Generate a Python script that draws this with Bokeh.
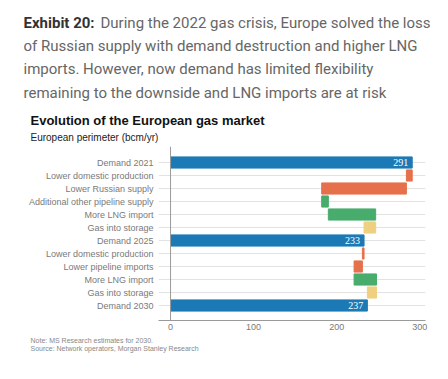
from bokeh.plotting import figure
from bokeh.layouts import column, row
from bokeh.models import Range1d, Label, LabelSet, ColumnDataSource, Span, FixedTicker
from bokeh.embed import file_html
from bokeh.resources import INLINE

categories = ["Demand 2021", "Lower domestic production", "Lower Russian supply",
              "Additional other pipeline supply", "More LNG import", "Gas into storage",
              "Demand 2025", "Lower domestic production", "Lower pipeline imports",
              "More LNG import", "Gas into storage", "Demand 2030"]
# totals for Demand rows, changes for others
values = [291, -7, -102, 8, 57, -14, 233, -2, -10, 27, -11, 237]
kinds = ["total", "down", "down", "up", "up", "storage",
         "total", "down", "down", "up", "storage", "total"]
x_ticks = [0, 100, 200, 300]

palette = {"total": "#1b7ab5", "down": "#e6704c", "up": "#48ad6c", "storage": "#efd080"}

lefts, rights, cols, ys = [], [], [], []
level = 0
for i, (v, k) in enumerate(zip(values, kinds)):
    if k == "total":
        lefts.append(0); rights.append(v); level = v
    else:
        new = level + v
        lefts.append(min(level, new)); rights.append(max(level, new)); level = new
    cols.append(palette[k]); ys.append(i)

src = ColumnDataSource(dict(y=ys, left=lefts, right=rights, color=cols))
tot_idx = [i for i, k in enumerate(kinds) if k == "total"]
tot_src = ColumnDataSource(dict(y=tot_idx, x=[values[i] for i in tot_idx],
                                t=[str(values[i]) for i in tot_idx]))

W = 448
TOP_H = 146      # header band (page y 0..146)
CH_H = 189       # chart band (page y 146..335)
BOT_H = 44       # footer band (page y 335..379)


def text_band(h):
    f = figure(width=W, height=h, output_backend="svg", toolbar_location=None,
               x_range=Range1d(0, W), y_range=Range1d(h, 0),
               x_axis_location=None, y_axis_location=None,
               min_border=0, min_border_left=0, min_border_right=0,
               min_border_top=0, min_border_bottom=0)
    f.grid.visible = False
    f.outline_line_color = None
    f.background_fill_color = "white"
    f.border_fill_color = "white"
    return f


def lab(f, text, px, py, size, color, bold=False, font="Liberation Sans"):
    f.add_layout(Label(x=px, y=py, text=text, text_font=font, text_font_size=size,
                       text_color=color, text_font_style="bold" if bold else "normal",
                       text_baseline="middle", text_align="left"))


head = text_band(TOP_H)
lab(head, "Exhibit 20:", 23, 22, "15px", "#333333", bold=True, font="Roboto")
lab(head, "During the 2022 gas crisis, Europe solved the loss", 100, 22, "15px", "#666666", font="Roboto")
lab(head, "of Russian supply with demand destruction and higher LNG", 23, 45, "15px", "#666666", font="Roboto")
lab(head, "imports. However, now demand has limited flexibility", 23, 68, "15px", "#666666", font="Roboto")
lab(head, "remaining to the downside and LNG imports are at risk", 23, 92, "15px", "#666666", font="Roboto")
lab(head, "Evolution of the European gas market", 30, 120, "13px", "#111111", bold=True)
lab(head, "European perimeter (bcm/yr)", 30, 137, "10px", "#222222")

fl, fr = 158, 425
top0, bot0 = 140 - TOP_H, 320 - TOP_H     # frame top/bottom inside chart band
p = figure(width=W, height=CH_H, output_backend="svg", toolbar_location=None,
           x_range=Range1d(-14.5, 307), y_range=Range1d(11 + 15 / 13, -16 / 13),
           min_border_left=fl, min_border_right=W - fr, min_border_top=0,
           min_border_bottom=CH_H - bot0)
p.outline_line_color = None
p.background_fill_color = "white"
p.border_fill_color = "white"

p.hbar(y="y", left="left", right="right", height=0.86, color="color", source=src)
p.add_layout(LabelSet(x="x", y="y", text="t", source=tot_src, x_offset=-4,
                      text_align="right", text_baseline="middle", text_color="white",
                      text_font="Liberation Sans", text_font_size="10px"))
p.add_layout(Span(location=0, dimension="height", line_color="#9a9a9a", line_width=1))

p.xgrid.visible = False
p.ygrid.ticker = FixedTicker(ticks=list(range(len(categories))))
p.ygrid.grid_line_color = "#e2e2e2"
p.ygrid.level = "underlay"

p.yaxis.ticker = FixedTicker(ticks=list(range(len(categories))))
p.yaxis.major_label_overrides = {i: c for i, c in enumerate(categories)}
p.yaxis.axis_line_color = None
p.yaxis.major_tick_line_color = None
p.yaxis.major_tick_out = 0
p.yaxis.major_tick_in = 0
p.yaxis.minor_tick_line_color = None
p.yaxis.major_label_standoff = 5
p.yaxis.major_label_text_font = "Liberation Sans"
p.yaxis.major_label_text_font_size = "9px"
p.yaxis.major_label_text_color = "#7a7a7a"

p.xaxis.ticker = FixedTicker(ticks=x_ticks)
p.xaxis.axis_line_color = "#9a9a9a"
p.xaxis.major_tick_line_color = None
p.xaxis.major_tick_out = 0
p.xaxis.major_tick_in = 0
p.xaxis.minor_tick_line_color = None
p.xaxis.major_label_standoff = 3
p.xaxis.major_label_text_font = "Liberation Sans"
p.xaxis.major_label_text_font_size = "9px"
p.xaxis.major_label_text_color = "#7a7a7a"

foot = text_band(BOT_H)
lab(foot, "Note: MS Research estimates for 2030.", 30, 340 - 335, "7px", "#888888")
lab(foot, "Source: Network operators, Morgan Stanley Research", 30, 348 - 335, "7px", "#888888")

layout = column(row(head), p, row(foot), spacing=0)
open("out.html", "w").write(file_html(layout, INLINE))
